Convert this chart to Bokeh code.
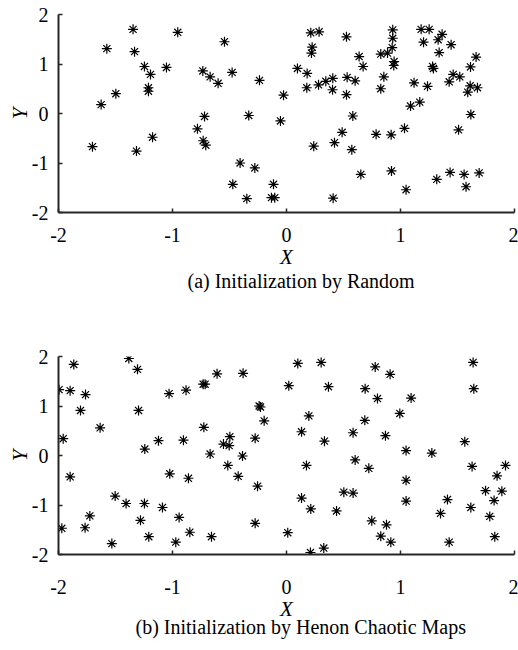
from bokeh.plotting import figure
from bokeh.layouts import column
from bokeh.models import Range1d, FixedTicker, Title
from bokeh.embed import file_html
from bokeh.resources import INLINE

# (a) random initialization
rand_x = [-1.346, -1.576, -0.954, -0.544, -1.333, -1.246, -1.193, -1.053, -0.734, -0.670,
          -0.600, -0.477, -0.237, -1.211, -1.211, -1.497, -1.626, -0.719, -0.331, -0.781,
          -0.731, -0.708, -1.175, -1.702, -1.316, -0.407, -0.278, -0.471, -0.348,
          0.213, 0.286, 0.526, 0.225, 0.219, 0.932, 0.932, 0.927, 0.827, 0.886,
          0.944, 0.941, 0.637, 0.672, 1.181, 1.251, 1.365, 1.330, 1.202, 1.444,
          1.339, 1.663, 1.281, 1.289, 1.614, 1.462, 1.520, 1.427, 1.611, 1.675,
          1.590, 1.119, 1.237, 0.854, 0.827, 1.088, 1.169, 1.617, 1.509, 0.096,
          0.181, 0.178, 0.281, 0.345, 0.406, 0.404, 0.532, 0.602, 0.526, -0.026,
          -0.053, 0.582, 0.488, 0.239, 0.421, 0.573, 0.786, 0.918, 1.035, -0.114,
          -0.132, -0.103, 0.409, 0.652, 0.921, 1.049, 1.318, 1.435, 1.558, 1.690,
          1.575]
rand_y = [1.70, 1.31, 1.64, 1.45, 1.25, 0.95, 0.79, 0.93, 0.86, 0.74,
          0.61, 0.83, 0.67, 0.52, 0.45, 0.40, 0.18, -0.06, -0.04, -0.31,
          -0.55, -0.64, -0.48, -0.67, -0.76, -1.00, -1.10, -1.43, -1.72,
          1.63, 1.65, 1.55, 1.34, 1.22, 1.69, 1.52, 1.33, 1.20, 1.22,
          1.05, 0.97, 1.15, 0.95, 1.70, 1.70, 1.60, 1.49, 1.44, 1.39,
          1.23, 1.14, 0.95, 0.91, 0.94, 0.79, 0.74, 0.64, 0.56, 0.52,
          0.43, 0.62, 0.55, 0.74, 0.50, 0.15, 0.23, -0.02, -0.33, 0.91,
          0.81, 0.52, 0.58, 0.65, 0.71, 0.48, 0.73, 0.66, 0.38, 0.37,
          -0.15, -0.05, -0.38, -0.66, -0.59, -0.73, -0.42, -0.43, -0.30, -1.43,
          -1.70, -1.70, -1.71, -1.23, -1.16, -1.54, -1.33, -1.19, -1.23, -1.20,
          -1.48]

# (b) Henon chaotic map initialization
henon_x = [-1.995, -1.898, -1.866, -1.763, -1.807, -1.959, -1.898, -1.971, -1.767, -1.725,
           -1.635, -1.383, -1.307, -1.298, -1.243, -1.123, -1.503, -1.407, -1.246, -1.088,
           -1.281, -1.208, -1.532, -1.030, -0.881, -0.731, -0.714, -0.609, -0.381, -0.240,
           -0.228, -0.196, -0.725, -0.904, -0.670, -0.553, -0.497, -0.503, -0.386, -0.275,
           -0.515, -0.424, -0.254, -1.024, -0.860, -0.942, -0.848, -0.971, -0.658, -0.275,
           0.099, 0.304, 0.020, 0.368, 0.196, 0.132, 0.333, 0.175, 0.132, 0.213,
           0.439, 0.011, 0.210, 0.327, 0.778, 0.909, 0.690, 0.798, 1.093, 0.687,
           0.994, 0.584, 0.868, 0.602, 0.722, 1.049, 1.275, 1.049, 1.049, 0.503,
           0.584, 0.748, 0.877, 0.827, 0.915, 1.637, 1.643, 1.564, 1.628, 1.921,
           1.847, 1.746, 1.889, 1.821, 1.412, 1.351, 1.617, 1.783, 1.827, 1.427]
henon_y = [1.33, 1.31, 1.84, 1.23, 0.91, 0.34, -0.43, -1.47, -1.46, -1.22,
           0.56, 1.96, 1.74, 0.91, 0.13, 0.30, -0.82, -0.97, -0.97, -1.05,
           -1.31, -1.64, -1.78, 1.25, 1.32, 1.44, 1.44, 1.65, 1.66, 1.00,
           0.98, 0.70, 0.57, 0.31, 0.03, 0.23, 0.38, 0.20, -0.01, 0.35,
           -0.20, -0.42, -0.62, -0.37, -0.46, -1.25, -1.55, -1.75, -1.64, -1.37,
           1.86, 1.88, 1.41, 1.39, 0.80, 0.48, 0.29, -0.20, -0.86, -1.08,
           -1.12, -1.56, -1.96, -1.87, 1.79, 1.64, 1.35, 1.15, 1.16, 0.71,
           0.85, 0.46, 0.40, -0.09, -0.26, 0.10, 0.05, -0.50, -0.92, -0.74,
           -0.76, -1.32, -1.40, -1.63, -1.75, 1.88, 1.35, 0.28, -0.22, -0.20,
           -0.41, -0.71, -0.72, -0.91, -0.89, -1.17, -1.05, -1.23, -1.64, -1.75]

tick_values = [-2, -1, 0, 1, 2]
tick_labels = ["-2", "-1", "0", "1", "2"]
x_label = "X"
y_label = "Y"
captions = ["(a) Initialization by Random", "(b) Initialization by Henon Chaotic Maps"]

FONT = "Liberation Serif"
AX_COLOR = "#262626"


def try_set(obj, attr, val, fallback):
    try:
        setattr(obj, attr, val)
    except Exception:
        setattr(obj, attr, fallback)


def make_panel(xs, ys, caption, border_top, border_bottom, tick_standoff, label_standoff,
               cap_offset, cap_standoff):
    p = figure(frame_width=456, frame_height=198,
               x_range=Range1d(-2, 2), y_range=Range1d(-2, 2),
               output_backend="svg", toolbar_location=None,
               min_border_left=58, min_border_right=4,
               min_border_top=border_top, min_border_bottom=border_bottom,
               background_fill_color="white", border_fill_color="white")
    p.outline_line_color = None
    p.xgrid.visible = False
    p.ygrid.visible = False
    p.scatter(xs, ys, marker="asterisk", size=10, line_color="black", line_width=1.2)
    overrides = {v: s for v, s in zip(tick_values, tick_labels)}
    for ax in (p.xaxis[0], p.yaxis[0]):
        ax.ticker = FixedTicker(ticks=tick_values)
        ax.major_label_overrides = overrides
        ax.axis_line_color = AX_COLOR
        ax.axis_line_width = 2
        ax.major_tick_line_color = AX_COLOR
        ax.major_tick_line_width = 1.5
        ax.major_tick_in = 4
        ax.major_tick_out = 0
        ax.minor_tick_line_color = None
        ax.major_label_text_font = FONT
        ax.major_label_text_font_size = "20px"
        ax.major_label_text_color = "black"
        ax.axis_label_text_font = FONT
        ax.axis_label_text_font_size = "21px"
        ax.axis_label_text_font_style = "italic"
        ax.axis_label_text_color = "black"
    p.xaxis[0].axis_label = x_label
    p.yaxis[0].axis_label = y_label
    p.xaxis[0].major_label_standoff = tick_standoff
    p.xaxis[0].axis_label_standoff = label_standoff
    p.yaxis[0].major_label_standoff = 10
    try_set(p.yaxis[0], "axis_label_standoff", -3, 0)
    t = Title(text=caption, align="left", offset=cap_offset,
              text_font=FONT, text_font_size="20px", text_font_style="normal",
              text_color="black")
    try_set(t, "standoff", cap_standoff, 0)
    p.add_layout(t, "below")
    return p


p1 = make_panel(rand_x, rand_y, captions[0], 14, 113, 15, 0, 129, -8)
p2 = make_panel(henon_x, henon_y, captions[1], 31, 96, 25, 0, 77, -20)
p = column(p1, p2, spacing=0)

open("out.html", "w").write(file_html(p, INLINE))
